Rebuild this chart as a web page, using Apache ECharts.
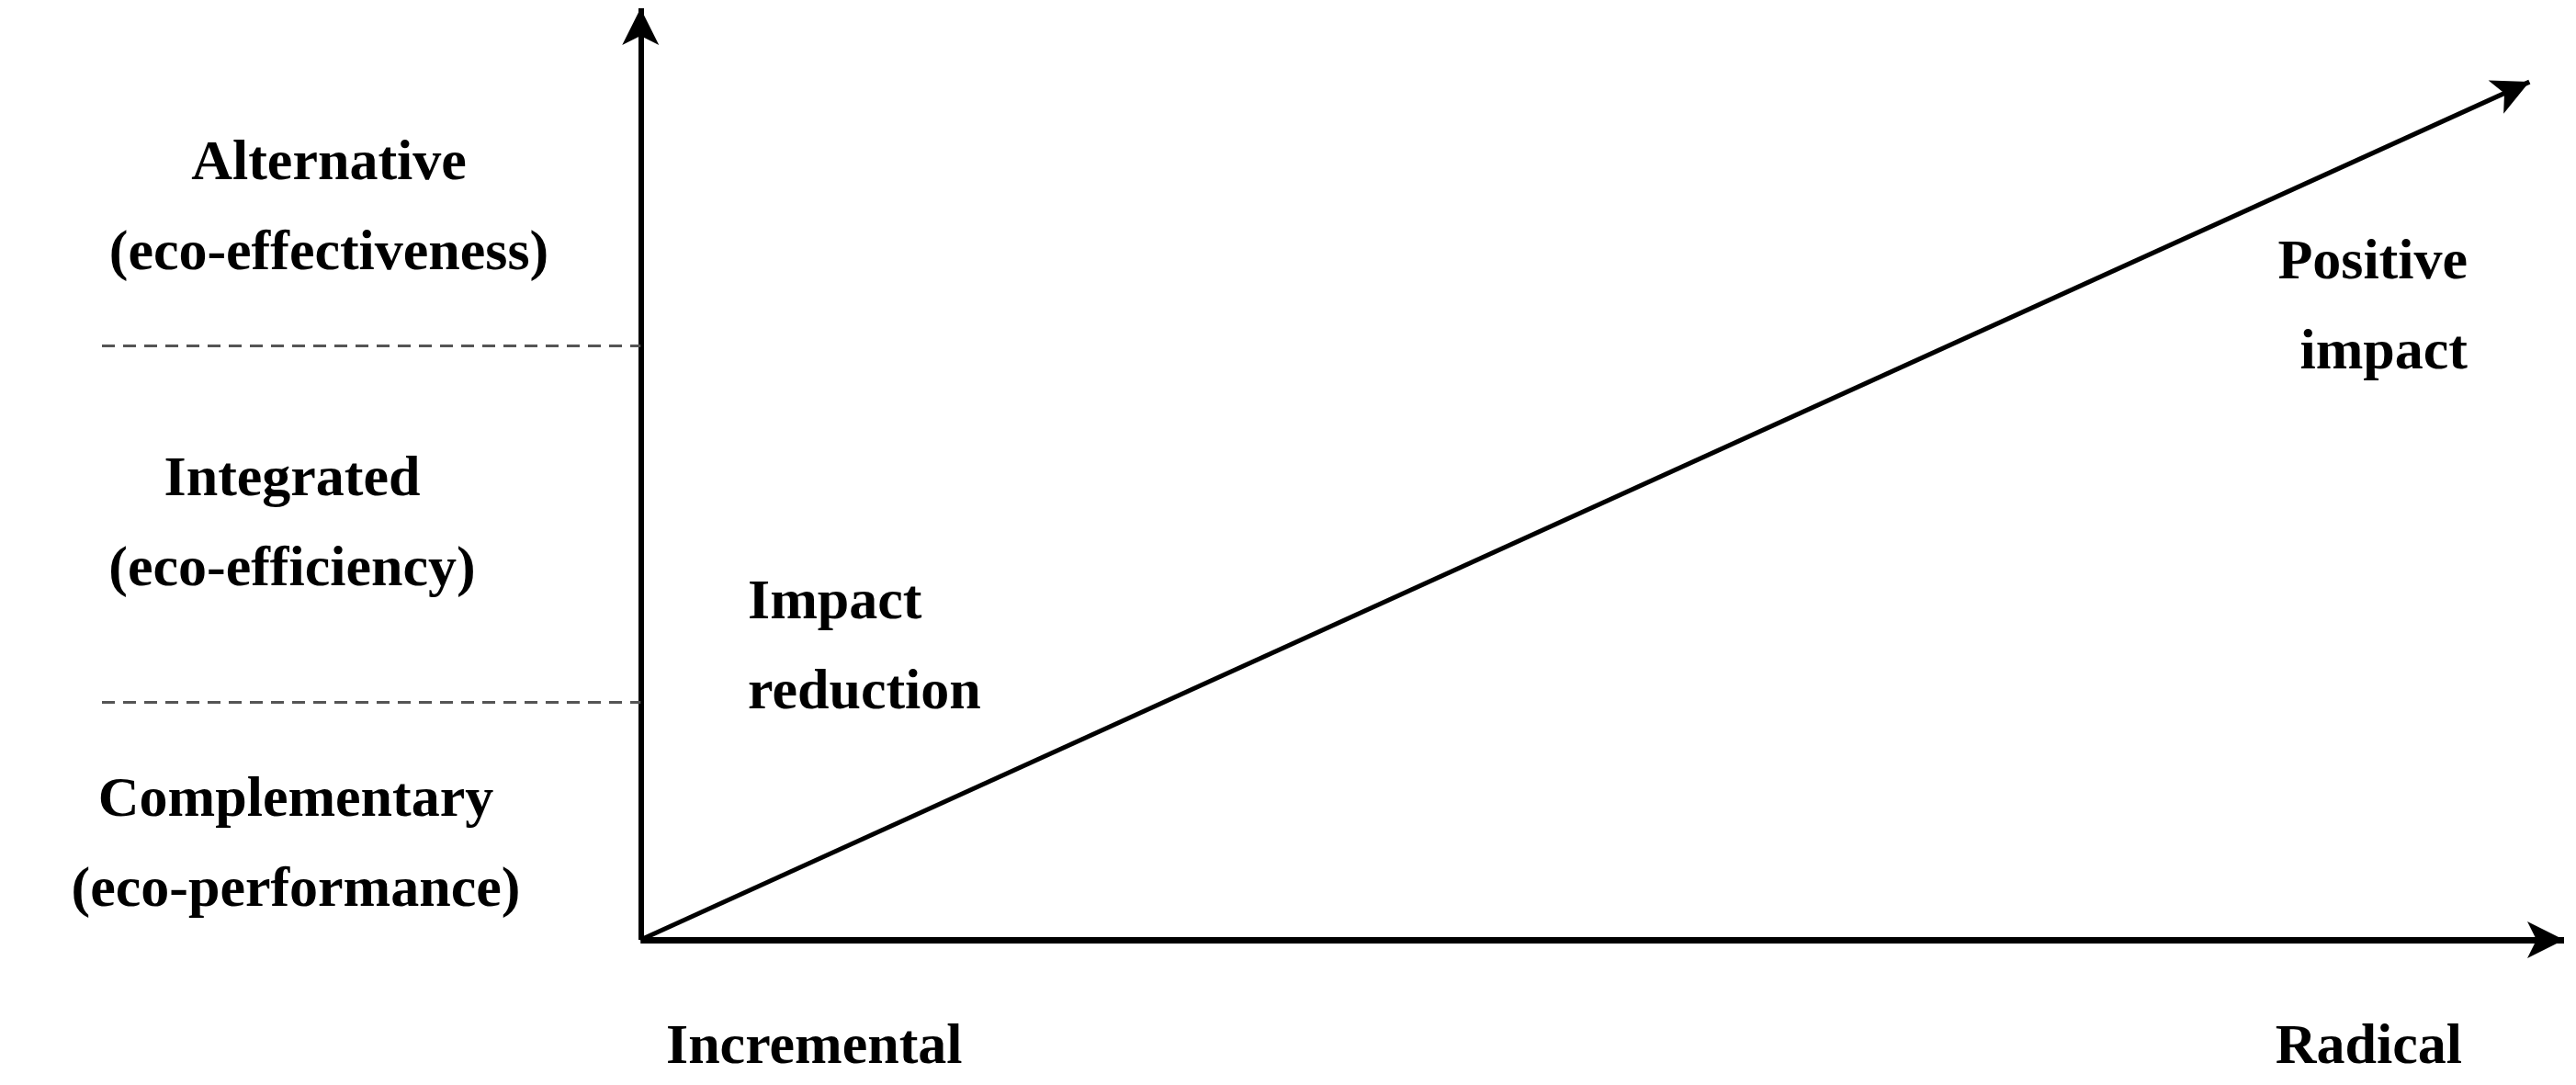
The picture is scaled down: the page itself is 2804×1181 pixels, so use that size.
<!DOCTYPE html>
<html>
<head>
<meta charset="utf-8">
<script src="https://cdn.jsdelivr.net/npm/echarts@6/dist/echarts.min.js"></script>
<style>html,body{margin:0;padding:0;background:#fff}#chart{width:2804px;height:1181px}</style>
</head>
<body>
<div id="chart"></div>
<script>
// arrow endpoints and boundaries, in axis units
var xAxisArrow = [[0, 0], [100, 0]];
var yAxisArrow = [[0, 0], [0, 100]];
var impactLine = [[0, 0], [98.2, 92.1]];
var boundaries = [63.8, 25.5];
var boundaryStart = -28;

var rowLabels = [
    {text: 'Alternative\n(eco-effectiveness)', x: 358, y: 228},
    {text: 'Integrated\n(eco-efficiency)', x: 318, y: 572},
    {text: 'Complementary\n(eco-performance)', x: 322, y: 921}
];

function arrow(pts, width){
    return {
        symbol: ['none', 'arrow'],
        symbolSize: [30, 40],
        lineStyle: {color: '#000', width: width, type: 'solid'},
        data: [[{coord: pts[0]}, {coord: pts[1]}]]
    };
}

var chart = echarts.init(document.getElementById('chart'));
var font = '"Liberation Serif", "DejaVu Serif", serif';
var graphics = rowLabels.map(function(l){
    return {type: 'text', x: l.x, y: l.y, style: {text: l.text, font: 'bold 62px ' + font,
        fill: '#000', textAlign: 'center', textVerticalAlign: 'middle', lineHeight: 98}};
});
graphics.push({type: 'text', x: 814, y: 706, style: {text: 'Impact\nreduction', font: 'bold 62px ' + font,
    fill: '#000', textAlign: 'left', textVerticalAlign: 'middle', lineHeight: 98}});
graphics.push({type: 'text', x: 2686, y: 336, style: {text: 'Positive\nimpact', font: 'bold 62px ' + font,
    fill: '#000', textAlign: 'right', textVerticalAlign: 'middle', lineHeight: 98}});
graphics.push({type: 'text', x: 725, y: 1141, style: {text: 'Incremental', font: 'bold 62px ' + font,
    fill: '#000', textAlign: 'left', textVerticalAlign: 'middle'}});
graphics.push({type: 'text', x: 2680, y: 1141, style: {text: 'Radical', font: 'bold 62px ' + font,
    fill: '#000', textAlign: 'right', textVerticalAlign: 'middle'}});

var option = {
    animation: false,
    backgroundColor: '#fff',
    grid: {left: 111, right: 13, top: 9, bottom: 158},
    xAxis: {type: 'value', min: boundaryStart, max: 100, show: false},
    yAxis: {type: 'value', min: 0, max: 100, show: false},
    graphic: graphics,
    series: [
        {type: 'line', data: [], markLine: arrow(xAxisArrow, 7)},
        {type: 'line', data: [], markLine: arrow(yAxisArrow, 6)},
        {type: 'line', data: [], markLine: arrow(impactLine, 5)},
        {type: 'line', data: [], markLine: {
            symbol: ['none', 'none'],
            lineStyle: {color: '#555', width: 3, type: [14, 9]},
            label: {show: false},
            data: boundaries.map(function(v){ return [{coord: [boundaryStart, v]}, {coord: [0, v]}]; })
        }}
    ]
};
option.series.forEach(function(s){ if (s.markLine) { s.markLine.silent = true; s.markLine.label = {show: false}; } });
chart.setOption(option);
</script>
</body>
</html>
